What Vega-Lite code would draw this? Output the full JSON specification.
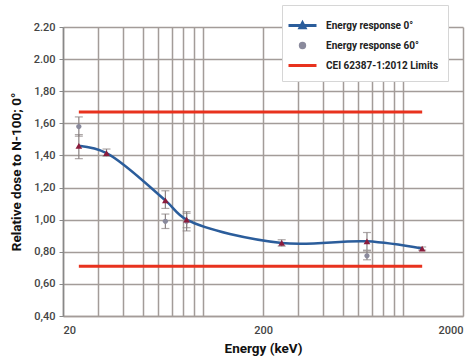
{
  "$schema": "https://vega.github.io/schema/vega-lite/v6.json",
  "width": 400,
  "height": 289,
  "autosize": "none",
  "padding": {"left": 63, "top": 27, "right": 12, "bottom": 44},
  "background": "white",
  "config": {
    "view": {"stroke": null},
    "font": "Roboto",
    "axis": {
      "gridColor": "#a39c99",
      "gridWidth": 1.5,
      "domainColor": "#a39c99",
      "domainWidth": 1.5,
      "labelFont": "Roboto",
      "labelFontWeight": 500,
      "labelColor": "#444444",
      "labelFontSize": 11,
      "labelOverlap": false,
      "titleFont": "Roboto",
      "titleFontWeight": "bold",
      "titleColor": "#111111",
      "titleFontSize": 13.5
    },
    "axisY": {
      "values": [0.4, 0.6, 0.8, 1.0, 1.2, 1.4, 1.6, 1.8, 2.0, 2.2],
      "labelExpr": "datum.value >= 1.99 ? format(datum.value, '.2f') : replace(format(datum.value, '.2f'), '.', ',')",
      "tickSize": 4,
      "tickColor": "#888888",
      "labelPadding": 4,
      "titlePadding": 10,
      "grid": true,
      "domainColor": "#888888"
    },
    "axisX": {
      "values": [20, 40, 60, 80, 100, 120, 140, 160, 180, 200, 400, 600, 800, 1000, 1200, 1400, 1600, 1800, 2000],
      "labelExpr": "datum.value == 20 || datum.value == 200 || datum.value == 2000 ? datum.value + '' : ''",
      "ticks": false,
      "labelPadding": 8,
      "titlePadding": 6,
      "grid": true
    },
    "legend": {
      "title": null,
      "orient": "none",
      "legendX": 219,
      "legendY": -22,
      "padding": 9,
      "fillColor": "white",
      "strokeColor": "#d6d6d6",
      "symbolSize": 400,
      "symbolStrokeWidth": 3,
      "symbolOpacity": 1,
      "labelFont": "Roboto",
      "labelFontWeight": "bold",
      "labelFontSize": 10,
      "labelColor": "#222222",
      "labelOffset": 12,
      "rowPadding": -2,
      "labelLimit": 200
    }
  },
  "datasets": {
    "pts": [
      {"e": 24, "v": 1.46, "lo": 1.38, "hi": 1.53, "series": "Energy response 0°"},
      {"e": 33, "v": 1.415, "lo": 1.395, "hi": 1.44, "series": "Energy response 0°"},
      {"e": 65, "v": 1.12, "lo": 1.07, "hi": 1.18, "series": "Energy response 0°"},
      {"e": 83, "v": 1.0, "lo": 0.93, "hi": 1.05, "series": "Energy response 0°"},
      {"e": 248, "v": 0.855, "lo": 0.835, "hi": 0.875, "series": "Energy response 0°"},
      {"e": 662, "v": 0.865, "lo": 0.81, "hi": 0.92, "series": "Energy response 0°"},
      {"e": 1250, "v": 0.82, "lo": 0.81, "hi": 0.83, "series": "Energy response 0°"},
      {"e": 24, "v": 1.58, "lo": 1.52, "hi": 1.64, "series": "Energy response 60°"},
      {"e": 65, "v": 0.99, "lo": 0.945, "hi": 1.035, "series": "Energy response 60°"},
      {"e": 83, "v": 0.99, "lo": 0.95, "hi": 1.04, "series": "Energy response 60°"},
      {"e": 662, "v": 0.775, "lo": 0.75, "hi": 0.805, "series": "Energy response 60°"}
    ],
    "limits": [
      {"e1": 24, "e2": 1250, "v": 0.71, "series": "CEI 62387-1:2012 Limits"},
      {"e1": 24, "e2": 1250, "v": 1.67, "series": "CEI 62387-1:2012 Limits"}
    ]
  },
  "encoding": {
    "x": {"type": "quantitative", "scale": {"type": "log", "domain": [20, 2000], "nice": false}, "title": "Energy (keV)"},
    "y": {"type": "quantitative", "scale": {"domain": [0.4, 2.2], "nice": false, "zero": false}, "title": "Relative dose to N-100; 0°"}
  },
  "layer": [
    {
      "data": {"name": "pts"},
      "mark": {"type": "errorbar", "ticks": {"size": 8, "color": "#8a8282"}, "rule": {"color": "#8a8282"}, "thickness": 1.2},
      "encoding": {
        "x": {"field": "e", "type": "quantitative"},
        "y": {"field": "lo", "type": "quantitative"},
        "y2": {"field": "hi"}
      }
    },
    {
      "data": {"name": "limits"},
      "mark": {"type": "rule", "strokeWidth": 3},
      "encoding": {
        "x": {"field": "e1", "type": "quantitative"},
        "x2": {"field": "e2"},
        "y": {"field": "v", "type": "quantitative"},
        "color": {"field": "series", "type": "nominal", "scale": {"domain": ["Energy response 0°", "Energy response 60°", "CEI 62387-1:2012 Limits"], "range": ["#2b5d9b", "#8a8a9c", "#e8321e"]}}
      }
    },
    {
      "data": {"name": "pts"},
      "transform": [{"filter": "datum.series == 'Energy response 0°'"}],
      "mark": {"type": "line", "interpolate": "catmull-rom", "strokeWidth": 2.5},
      "encoding": {
        "x": {"field": "e", "type": "quantitative"},
        "y": {"field": "v", "type": "quantitative"},
        "color": {"field": "series", "type": "nominal"}
      }
    },
    {
      "data": {"name": "pts"},
      "transform": [{"filter": "datum.series == 'Energy response 60°'"}],
      "mark": {"type": "point", "filled": true, "opacity": 1, "size": 576},
      "encoding": {
        "x": {"field": "e", "type": "quantitative"},
        "y": {"field": "v", "type": "quantitative"},
        "color": {"field": "series", "type": "nominal"},
        "shape": {
          "field": "series", "type": "nominal",
          "scale": {
            "domain": ["Energy response 0°", "Energy response 60°", "CEI 62387-1:2012 Limits"],
            "range": ["M-1.4,0H1.4M-0.25,0.22L0,-0.26L0.25,0.22Z", "M-0.22,0A0.22,0.22 0 1,0 0.22,0A0.22,0.22 0 1,0 -0.22,0Z", "M-1.4,0H1.4"]
          }
        }
      }
    },
    {
      "data": {"name": "pts"},
      "transform": [{"filter": "datum.series == 'Energy response 0°'"}],
      "mark": {"type": "point", "shape": "triangle-up", "filled": true, "opacity": 1, "size": 45, "color": "#8b1c3c"},
      "encoding": {
        "x": {"field": "e", "type": "quantitative"},
        "y": {"field": "v", "type": "quantitative"}
      }
    }
  ]
}
